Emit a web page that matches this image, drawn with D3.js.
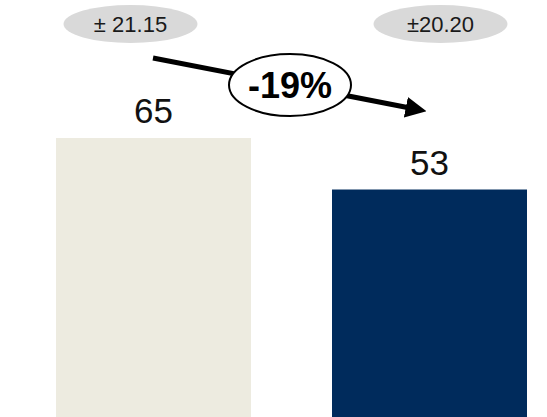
<!DOCTYPE html>
<html>
<head>
<meta charset="utf-8">
<script src="https://cdn.jsdelivr.net/npm/d3@7"></script>
<style>
    body { margin: 0; background: #fff; }
    svg { display: block; font-family: Arial, "Liberation Sans", sans-serif; }
</style>
</head>
<body>
<script>
// chart values
var categories = ["Before", "After"];
var values = [65, 53];
var errorLabels = ["\u00b1 21.15", "\u00b120.20"];
var changeLabel = "-19%";

var colors = ["#EDEBE0", "#002B5C"];

var width = 547,
    height = 417;

var svg = d3.select("body").append("svg")
    .attr("width", width)
    .attr("height", height);

var x = d3.scaleBand()
    .domain(categories)
    .range([56, 527])
    .paddingInner(0.2935)
    .paddingOuter(0);

var y = d3.scaleLinear()
    .domain([0, 65])
    .range([height, 138]);

// bars
svg.selectAll("rect.bar")
    .data(values)
    .enter().append("rect")
    .attr("class", "bar")
    .attr("x", function(d, i) { return x(categories[i]); })
    .attr("y", function(d) { return y(d); })
    .attr("width", x.bandwidth())
    .attr("height", function(d) { return y(0) - y(d); })
    .attr("fill", function(d, i) { return colors[i]; });

// value labels
svg.selectAll("text.val")
    .data(values)
    .enter().append("text")
    .attr("class", "val")
    .attr("x", function(d, i) { return x(categories[i]) + x.bandwidth() / 2; })
    .attr("y", function(d) { return y(d) - 15; })
    .attr("text-anchor", "middle")
    .attr("font-size", 35)
    .attr("fill", "#111")
    .text(function(d) { return d; });

// error ellipses at the top
var errOffset = [-23, 11];
var errG = svg.selectAll("g.err")
    .data(errorLabels)
    .enter().append("g")
    .attr("class", "err")
    .attr("transform", function(d, i) {
        return "translate(" + (x(categories[i]) + x.bandwidth() / 2 + errOffset[i]) + ",24)";
    });
errG.append("ellipse")
    .attr("rx", 67)
    .attr("ry", 19)
    .attr("fill", "#D9D9D9");
errG.append("text")
    .attr("y", 8)
    .attr("text-anchor", "middle")
    .attr("font-size", 22)
    .attr("fill", "#1a1a1a")
    .text(function(d) { return d; });

// change arrow
var defs = svg.append("defs");
defs.append("marker")
    .attr("id", "head")
    .attr("viewBox", "0 0 10 10")
    .attr("refX", 2)
    .attr("refY", 5)
    .attr("markerWidth", 4.2)
    .attr("markerHeight", 4.4)
    .attr("markerUnits", "strokeWidth")
    .attr("orient", "auto")
    .append("path")
    .attr("d", "M0,0 L10,5 L0,10 Z")
    .attr("fill", "#000");

svg.append("line")
    .attr("x1", 153)
    .attr("y1", 58)
    .attr("x2", 410)
    .attr("y2", 108)
    .attr("stroke", "#000")
    .attr("stroke-width", 5)
    .attr("marker-end", "url(#head)");

var chg = svg.append("g").attr("transform", "translate(290,85)");
chg.append("ellipse")
    .attr("rx", 61)
    .attr("ry", 31)
    .attr("fill", "#fff")
    .attr("stroke", "#000")
    .attr("stroke-width", 2);
chg.append("text")
    .attr("y", 13)
    .attr("text-anchor", "middle")
    .attr("font-size", 36)
    .attr("font-weight", "bold")
    .attr("fill", "#000")
    .text(changeLabel);
</script>
</body>
</html>
